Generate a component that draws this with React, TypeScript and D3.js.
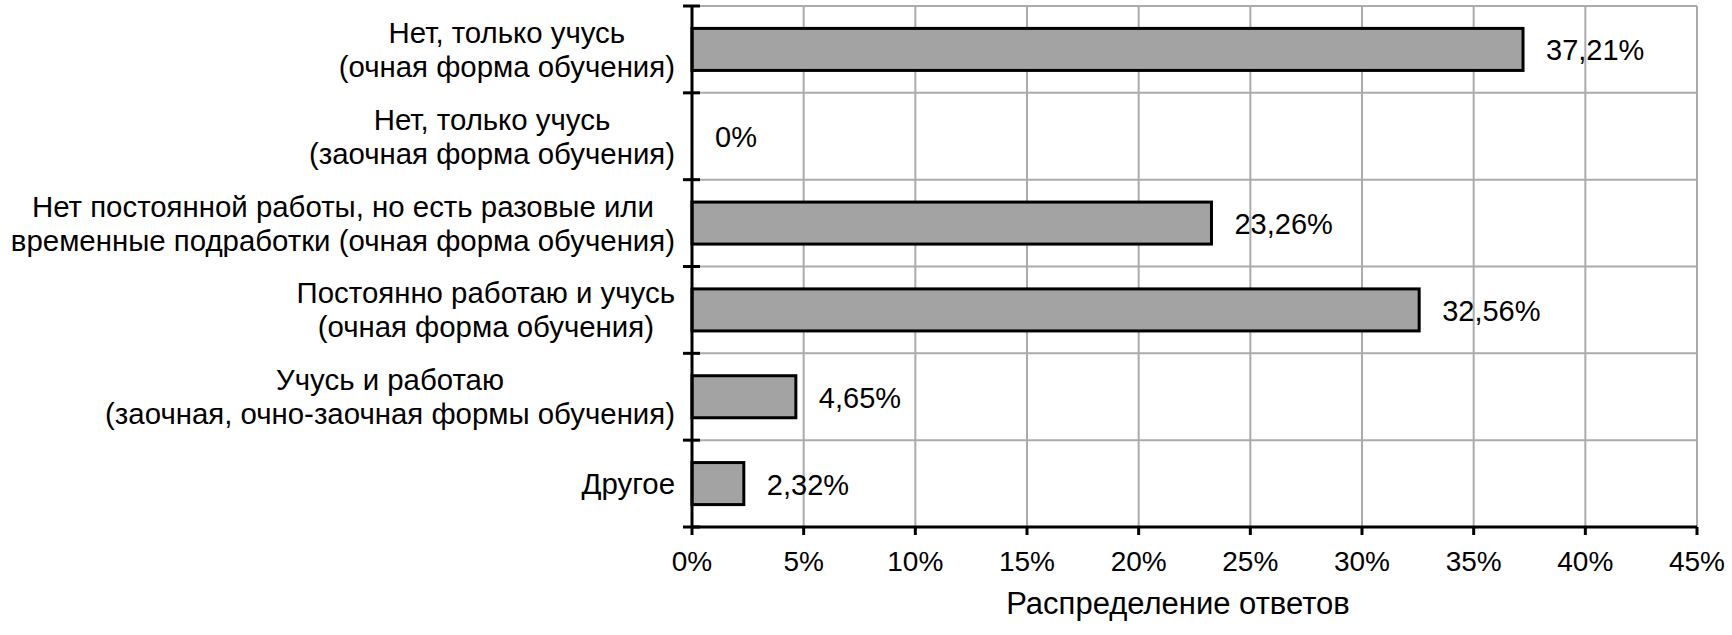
import React, { useEffect, useRef } from "react";
import * as d3 from "d3";

const categories: string[][] = [
  ["Нет, только учусь", "(очная форма обучения)"],
  ["Нет, только учусь", "(заочная форма обучения)"],
  ["Нет постоянной работы, но есть разовые или", "временные подработки (очная форма обучения)"],
  ["Постоянно работаю и учусь", "(очная форма обучения)"],
  ["Учусь и работаю", "(заочная, очно-заочная формы обучения)"],
  ["Другое"],
];
const values: number[] = [37.21, 0, 23.26, 32.56, 4.65, 2.32];
const valueLabels: string[] = ["37,21%", "0%", "23,26%", "32,56%", "4,65%", "2,32%"];
const xTicks: number[] = [0, 5, 10, 15, 20, 25, 30, 35, 40, 45];
const axisTitle = "Распределение ответов";

const W = 1732;
const H = 635;
const FONT = "'Liberation Sans', Arial, sans-serif";

export default function App() {
  const ref = useRef<SVGSVGElement | null>(null);

  useEffect(() => {
    document.body.style.margin = "0";
    const svg = d3.select(ref.current);
    svg.selectAll("*").remove();

    const left = 692, right = 1697, top = 6, bottom = 527;
    const x = d3.scaleLinear().domain([0, 45]).range([left, right]);
    const ids = categories.map((_, i) => String(i));
    const y = d3.scaleBand<string>().domain(ids).range([top, bottom]).paddingInner(0.516).paddingOuter(0.258);
    const step = y.step();
    const center = (i: number) => (y(String(i)) as number) + y.bandwidth() / 2;

    const grid = svg.append("g");
    grid.selectAll("line.v").data(xTicks.filter((t) => t > 0)).enter().append("line")
      .attr("x1", (d) => x(d)).attr("x2", (d) => x(d))
      .attr("y1", top).attr("y2", bottom)
      .attr("stroke", "#ababab").attr("stroke-width", 2);
    const bounds = d3.range(categories.length).map((i) => top + i * step);
    grid.selectAll("line.h").data(bounds).enter().append("line")
      .attr("x1", left).attr("x2", right)
      .attr("y1", (d) => d).attr("y2", (d) => d)
      .attr("stroke", "#ababab").attr("stroke-width", 2);

    const barG = svg.append("g");
    values.forEach((v, i) => {
      if (v <= 0) return;
      barG.append("rect")
        .attr("x", x(0))
        .attr("y", y(String(i)) as number)
        .attr("width", x(v) - x(0))
        .attr("height", y.bandwidth())
        .attr("fill", "#a3a3a3")
        .attr("stroke", "#000")
        .attr("stroke-width", 3);
    });

    const ax = svg.append("g");
    ax.append("line").attr("x1", left).attr("x2", left).attr("y1", top).attr("y2", bottom)
      .attr("stroke", "#000").attr("stroke-width", 3);
    const yTickPos = d3.range(categories.length + 1).map((i) => top + i * step);
    ax.selectAll("line.yt").data(yTickPos).enter().append("line")
      .attr("x1", left - 9).attr("x2", left + 8)
      .attr("y1", (d) => d).attr("y2", (d) => d)
      .attr("stroke", "#000").attr("stroke-width", 3);
    ax.append("line").attr("x1", left).attr("x2", right).attr("y1", bottom).attr("y2", bottom)
      .attr("stroke", "#000").attr("stroke-width", 3);
    ax.selectAll("line.xt").data(xTicks).enter().append("line")
      .attr("x1", (d) => x(d)).attr("x2", (d) => x(d))
      .attr("y1", bottom).attr("y2", bottom + 8)
      .attr("stroke", "#000").attr("stroke-width", 3);
    ax.selectAll("text.xl").data(xTicks).enter().append("text")
      .attr("x", (d) => x(d)).attr("y", 571)
      .attr("text-anchor", "middle")
      .attr("font-family", FONT).attr("font-size", 28).attr("fill", "#000")
      .text((d) => `${d}%`);

    const labelRight = 675;
    const lineH = 34;
    categories.forEach((lines, i) => {
      const g = svg.append("g");
      const texts = lines.map((ln) =>
        g.append("text").attr("font-family", FONT).attr("font-size", 29.4).attr("fill", "#000")
          .attr("text-anchor", "middle").text(ln)
      );
      const maxW = d3.max(texts, (t) => (t.node() as SVGTextElement).getComputedTextLength()) || 0;
      const cx = labelRight - maxW / 2;
      const c = center(i);
      const n = lines.length;
      texts.forEach((t, k) => {
        const off = (k - (n - 1) / 2) * lineH;
        t.attr("x", cx).attr("y", c + off + 10.5);
      });
    });

    svg.append("g").selectAll("text").data(values).enter().append("text")
      .attr("x", (d) => x(d) + 23)
      .attr("y", (_, i) => center(i) + 11)
      .attr("font-family", FONT).attr("font-size", 29).attr("fill", "#000")
      .text((_, i) => valueLabels[i]);

    svg.append("text").attr("x", 1178).attr("y", 614).attr("text-anchor", "middle")
      .attr("font-family", FONT).attr("font-size", 31).attr("fill", "#000")
      .text(axisTitle);
  }, []);

  return <svg ref={ref} width={W} height={H} style={{ display: "block", background: "#fff" }} />;
}
